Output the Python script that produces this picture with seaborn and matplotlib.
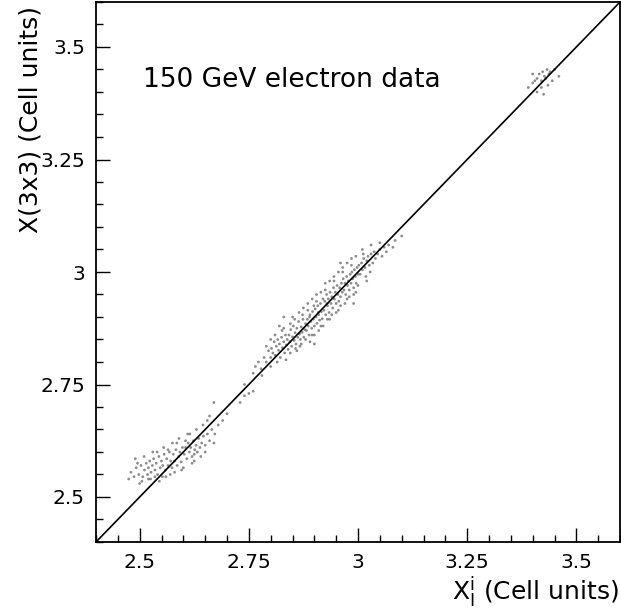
import matplotlib
matplotlib.use("Agg")
import matplotlib.pyplot as plt
import seaborn as sns
import pandas as pd
from matplotlib.ticker import MultipleLocator

# ---- data ----
lower_x = [2.48, 2.487, 2.492, 2.498, 2.503, 2.507, 2.511, 2.515, 2.518, 2.52, 2.495, 2.505,
           2.523, 2.526, 2.529, 2.532, 2.535, 2.538, 2.541, 2.544, 2.547, 2.55, 2.553, 2.556, 2.559, 2.525, 2.54, 2.552,
           2.562, 2.565, 2.568, 2.571, 2.574, 2.577, 2.58, 2.583, 2.586, 2.589, 2.592, 2.595, 2.598, 2.57, 2.585, 2.596,
           2.602, 2.605, 2.608, 2.611, 2.614, 2.617, 2.62, 2.623, 2.626, 2.629, 2.632, 2.635, 2.638, 2.61, 2.625,
           2.642, 2.646, 2.65, 2.655, 2.66, 2.665, 2.672, 2.68, 2.69, 2.70, 2.655,
           2.67, 2.74, 2.75, 2.76,
           2.49, 2.50, 2.51, 2.52, 2.53, 2.545, 2.555, 2.56, 2.575, 2.58, 2.59, 2.60, 2.615, 2.62, 2.63,
           2.64, 2.645, 2.65, 2.66, 2.67, 2.475, 2.535, 2.565, 2.605, 2.625]
lower_y = [2.555, 2.545, 2.565, 2.55, 2.57, 2.545, 2.56, 2.575, 2.55, 2.565, 2.575, 2.535,
           2.58, 2.555, 2.57, 2.585, 2.56, 2.575, 2.55, 2.59, 2.565, 2.58, 2.57, 2.595, 2.56, 2.54, 2.6, 2.545,
           2.585, 2.57, 2.6, 2.58, 2.565, 2.595, 2.58, 2.605, 2.57, 2.59, 2.6, 2.578, 2.61, 2.55, 2.62, 2.56,
           2.595, 2.61, 2.585, 2.62, 2.6, 2.61, 2.59, 2.625, 2.605, 2.615, 2.6, 2.63, 2.61, 2.64, 2.58,
           2.62, 2.635, 2.615, 2.64, 2.625, 2.65, 2.64, 2.66, 2.67, 2.685, 2.67,
           2.71, 2.725, 2.73, 2.735,
           2.585, 2.53, 2.59, 2.54, 2.60, 2.535, 2.61, 2.545, 2.62, 2.555, 2.63, 2.565, 2.64, 2.575, 2.65,
           2.59, 2.66, 2.6, 2.68, 2.62, 2.54, 2.545, 2.605, 2.625, 2.595]

main_x = [2.765, 2.772, 2.778, 2.785, 2.79, 2.795, 2.80, 2.78, 2.76,
          2.802, 2.805, 2.808, 2.81, 2.813, 2.816, 2.818, 2.82, 2.822, 2.825, 2.827, 2.83, 2.832, 2.834, 2.836, 2.838, 2.84, 2.81, 2.826, 2.80,
          2.842, 2.844, 2.846, 2.848, 2.85, 2.852, 2.854, 2.856, 2.858, 2.86, 2.862, 2.864, 2.866, 2.868, 2.87, 2.872, 2.874, 2.876, 2.878, 2.88, 2.845, 2.857, 2.867, 2.873, 2.85,
          2.882, 2.884, 2.886, 2.888, 2.89, 2.892, 2.894, 2.896, 2.898, 2.90, 2.902, 2.904, 2.906, 2.908, 2.91, 2.912, 2.914, 2.916, 2.918, 2.92, 2.885, 2.895, 2.905, 2.915, 2.899, 2.889, 2.909,
          2.922, 2.924, 2.926, 2.928, 2.93, 2.932, 2.934, 2.936, 2.938, 2.94, 2.942, 2.944, 2.946, 2.948, 2.95, 2.952, 2.954, 2.956, 2.958, 2.96, 2.925, 2.935, 2.945, 2.955, 2.929,
          2.962, 2.964, 2.966, 2.968, 2.97, 2.972, 2.974, 2.976, 2.978, 2.98, 2.982, 2.984, 2.986, 2.988, 2.99, 2.992, 2.994, 2.996, 2.998, 3.0, 2.965, 2.975, 2.985, 2.995,
          3.002, 3.005, 3.008, 3.01, 3.013, 3.016, 3.018, 3.02, 3.023, 3.026, 3.03, 3.034, 3.037, 3.04, 3.012, 3.028,
          3.045, 3.05, 3.055, 3.06, 3.065, 3.07, 3.08, 3.085, 3.05,
          2.83, 2.96, 2.90, 2.99, 3.10, 2.74, 2.73,
          2.80, 2.815, 2.83, 2.835, 2.845, 2.855, 2.86, 2.865, 2.87, 2.875, 2.88, 2.885, 2.89, 2.895,
          2.90, 2.905, 2.91, 2.915, 2.92, 2.925, 2.93, 2.935, 2.94, 2.945, 2.95, 2.955, 2.96, 2.965,
          2.97, 2.975, 2.98, 2.985, 2.99, 2.995, 3.0, 3.01, 3.02, 3.03, 2.79, 2.82]
main_y = [2.79, 2.80, 2.785, 2.81, 2.80, 2.825, 2.81, 2.77, 2.775,
          2.83, 2.82, 2.845, 2.815, 2.835, 2.85, 2.826, 2.84, 2.81, 2.855, 2.832, 2.845, 2.82, 2.86, 2.838, 2.85, 2.828, 2.86, 2.87, 2.79,
          2.86, 2.845, 2.872, 2.835, 2.856, 2.88, 2.848, 2.865, 2.84, 2.875, 2.855, 2.89, 2.862, 2.85, 2.878, 2.866, 2.895, 2.855, 2.872, 2.885, 2.885, 2.83, 2.835, 2.905, 2.9,
          2.87, 2.895, 2.88, 2.86, 2.905, 2.89, 2.875, 2.912, 2.895, 2.88, 2.918, 2.9, 2.886, 2.925, 2.905, 2.893, 2.93, 2.912, 2.896, 2.94, 2.915, 2.86, 2.935, 2.88, 2.925, 2.9, 2.91,
          2.915, 2.935, 2.905, 2.95, 2.925, 2.94, 2.91, 2.955, 2.93, 2.945, 2.92, 2.965, 2.94, 2.955, 2.93, 2.97, 2.95, 2.935, 2.965, 2.945, 2.96, 2.895, 2.98, 2.915, 2.93,
          2.975, 2.955, 2.985, 2.96, 2.975, 2.95, 2.99, 2.97, 2.98, 2.96, 2.995, 2.975, 3.0, 2.985, 2.965, 3.005, 2.99, 2.975, 3.01, 2.995, 3.0, 2.94, 3.015, 2.955,
          3.015, 2.995, 3.02, 3.005, 3.03, 3.01, 2.99, 3.025, 3.035, 3.015, 3.04, 3.02, 3.045, 3.03, 3.04, 3.0,
          3.04, 3.05, 3.035, 3.055, 3.045, 3.06, 3.055, 3.07, 3.065,
          2.90, 3.02, 2.84, 2.93, 3.08, 2.75, 2.71,
          2.85, 2.80, 2.875, 2.805, 2.82, 2.895, 2.825, 2.91, 2.84, 2.92, 2.85, 2.93, 2.845, 2.94,
          2.86, 2.95, 2.87, 2.955, 2.88, 2.975, 2.895, 2.98, 2.905, 2.99, 2.91, 3.0, 2.925, 3.01,
          2.93, 3.02, 2.945, 3.03, 2.95, 3.035, 2.97, 3.05, 2.98, 3.06, 2.835, 2.88]

top_x = [3.39, 3.40, 3.405, 3.41, 3.415, 3.42, 3.423, 3.427, 3.43, 3.433, 3.437, 3.44, 3.445,
         3.41, 3.42, 3.435, 3.45, 3.46, 3.40, 3.425]
top_y = [3.41, 3.42, 3.425, 3.43, 3.44, 3.425, 3.445, 3.435, 3.43, 3.45, 3.44, 3.445, 3.425,
         3.40, 3.41, 3.415, 3.45, 3.435, 3.44, 3.395]

diag = [2.4, 3.6]
axis_range = [2.4, 3.6]
tick_values = [2.5, 2.75, 3.0, 3.25, 3.5]
tick_labels = ["2.5", "2.75", "3", "3.25", "3.5"]

pts = pd.DataFrame({
    "x": lower_x + main_x + top_x,
    "y": lower_y + main_y + top_y,
})

sns.set_style("ticks")
plt.rcParams["font.family"] = ["DejaVu Sans"]
plt.rcParams["mathtext.fontset"] = "dejavusans"
plt.rcParams["text.color"] = "black"
plt.rcParams["axes.labelcolor"] = "black"
plt.rcParams["xtick.color"] = "black"
plt.rcParams["ytick.color"] = "black"

fig = plt.figure(figsize=(6.21, 6.10), dpi=100)
ax = fig.add_axes([96 / 621, 68 / 610, 524 / 621, 540 / 610])

sns.scatterplot(data=pts, x="x", y="y", ax=ax, s=4, color="#666666",
                edgecolor="none", alpha=0.75, linewidth=0)
sns.lineplot(x=diag, y=diag, ax=ax, color="black", linewidth=1.2)

ax.set_xlim(axis_range)
ax.set_ylim(axis_range)
ax.set_xticks(tick_values)
ax.set_xticklabels(tick_labels)
ax.set_yticks(tick_values)
ax.set_yticklabels(tick_labels)
ax.xaxis.set_minor_locator(MultipleLocator(0.05))
ax.yaxis.set_minor_locator(MultipleLocator(0.05))
ax.tick_params(which="major", direction="in", length=10, width=1, labelsize=14.5,
               pad=8, colors="black")
ax.tick_params(which="minor", direction="in", length=5, width=1, colors="black")
for sp in ax.spines.values():
    sp.set_linewidth(1.3)
    sp.set_color("black")

ax.set_xlabel(r"$\mathregular{X_{I}^{i}}$ (Cell units)", fontsize=18, color="black")
ax.set_ylabel("X(3x3) (Cell units)", fontsize=18, color="black")
ax.xaxis.set_label_coords(0.997, -0.06)
ax.xaxis.label.set_ha("right")
ax.xaxis.label.set_va("top")
ax.yaxis.set_label_coords(-0.125, 0.993)
ax.yaxis.label.set_va("center")
ax.yaxis.label.set_ha("right")

ax.text(0.09, 0.856, "150 GeV electron data", transform=ax.transAxes,
        fontsize=19, ha="left", va="center", color="black")

fig.savefig("out.png", dpi=100)
